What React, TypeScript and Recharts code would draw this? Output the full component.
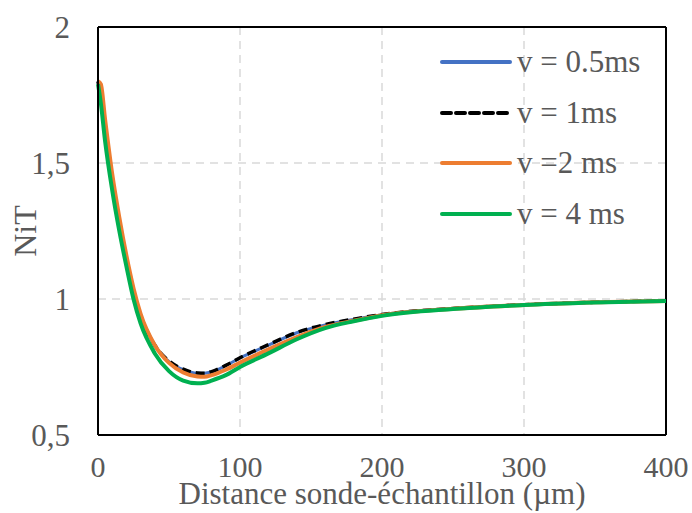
import React from 'react';
import {
  LineChart,
  Line,
  XAxis,
  YAxis,
  CartesianGrid,
  ReferenceLine,
} from 'recharts';

// distance sonde-échantillon (µm)
const distance = [0, 2, 5, 10, 15, 20, 25, 30, 40, 50, 60, 70, 75, 80, 90, 100, 120, 140, 160, 180, 200, 250, 300, 350, 400];

const v05 = [1.8, 1.74, 1.61, 1.43, 1.28, 1.15, 1.03, 0.94, 0.83, 0.77, 0.74, 0.727, 0.727, 0.732, 0.755, 0.783, 0.83, 0.876, 0.905, 0.925, 0.942, 0.965, 0.979, 0.988, 0.993];
const v1 = [1.8, 1.74, 1.61, 1.43, 1.28, 1.15, 1.03, 0.94, 0.83, 0.772, 0.742, 0.728, 0.727, 0.733, 0.756, 0.784, 0.832, 0.877, 0.906, 0.926, 0.943, 0.965, 0.979, 0.988, 0.993];
const v2 = [1.8, 1.79, 1.66, 1.46, 1.3, 1.16, 1.04, 0.945, 0.83, 0.765, 0.73, 0.715, 0.714, 0.72, 0.74, 0.766, 0.815, 0.86, 0.897, 0.92, 0.94, 0.964, 0.978, 0.988, 0.993];
const v4 = [1.79, 1.72, 1.58, 1.4, 1.25, 1.12, 1.0, 0.91, 0.8, 0.735, 0.7, 0.69, 0.692, 0.7, 0.72, 0.75, 0.8, 0.852, 0.893, 0.918, 0.938, 0.963, 0.978, 0.987, 0.993];

const xTicks = [0, 100, 200, 300, 400];
const yTicks = [0.5, 1, 1.5, 2];

const series = [
  { key: 'v05', name: 'v = 0.5ms', color: '#4472C4', width: 3, dash: undefined as string | undefined },
  { key: 'v1', name: 'v = 1ms', color: '#000000', width: 3.5, dash: '9 5' },
  { key: 'v2', name: 'v =2 ms', color: '#ED7D31', width: 4, dash: undefined },
  { key: 'v4', name: 'v = 4 ms', color: '#00B050', width: 4, dash: undefined },
];

const data = distance.map((d, i) => ({ d, v05: v05[i], v1: v1[i], v2: v2[i], v4: v4[i] }));

const FONT = '"Liberation Serif", "Times New Roman", serif';
const TEXT = '#595959';

const LegendBox = () => (
  <div style={{ position: 'absolute', left: 440, top: 37, fontFamily: FONT, fontSize: 31, color: TEXT }}>
    {series.map((s) => (
      <div key={s.key} style={{ display: 'flex', alignItems: 'center', height: 50.5 }}>
        <svg width={77} height={10}>
          <line x1={2} y1={5} x2={70} y2={5} stroke={s.color} strokeWidth={4}
            strokeDasharray={s.dash} strokeLinecap="round" />
        </svg>
        <span style={{ whiteSpace: 'pre' }}>{s.name}</span>
      </div>
    ))}
  </div>
);

const YLabel = (props: any) => {
  const vb = props.viewBox;
  const cx = 25;
  const cy = vb.y + vb.height / 2;
  return (
    <text x={cx} y={cy} transform={`rotate(-90, ${cx}, ${cy})`} textAnchor="middle"
      dominantBaseline="central" fill={TEXT} fontFamily={FONT} fontSize={32}>
      NiT
    </text>
  );
};

const XLabel = (props: any) => {
  const vb = props.viewBox;
  return (
    <text x={vb.x + vb.width / 2} y={504} textAnchor="middle" fill={TEXT}
      fontFamily={FONT} fontSize={31}>
      Distance sonde-échantillon (µm)
    </text>
  );
};

export default function App() {
  return (
    <div style={{ position: 'absolute', left: 0, top: 0, width: 692, height: 513, background: '#fff' }}>
      <LineChart width={692} height={513} data={data} margin={{ top: 27, right: 26, left: 0, bottom: 0 }}>
        <CartesianGrid stroke="#D9D9D9" strokeWidth={1.5} strokeDasharray="8 6" />
        <XAxis
          dataKey="d"
          type="number"
          domain={[0, 400]}
          ticks={xTicks}
          height={78}
          axisLine={{ stroke: '#000', strokeWidth: 2 }}
          tickLine={false}
          tickSize={0}
          tickMargin={21}
          tick={{ fill: TEXT, fontSize: 30, fontFamily: FONT }}
          label={XLabel}
        />
        <YAxis
          type="number"
          domain={[0.5, 2]}
          ticks={yTicks}
          width={98}
          axisLine={{ stroke: '#000', strokeWidth: 2 }}
          tickLine={false}
          tickSize={0}
          tickMargin={28}
          tick={{ fill: TEXT, fontSize: 31, fontFamily: FONT }}
          tickFormatter={(v: number) => String(v).replace('.', ',')}
          label={YLabel}
        />
        <ReferenceLine y={2} stroke="#000" strokeWidth={2} />
        <ReferenceLine x={400} stroke="#000" strokeWidth={2} />
        {series.map((s) => (
          <Line
            key={s.key}
            type="monotone"
            dataKey={s.key}
            name={s.name}
            stroke={s.color}
            strokeWidth={s.width}
            strokeDasharray={s.dash}
            dot={false}
            isAnimationActive={false}
          />
        ))}
      </LineChart>
      <LegendBox />
    </div>
  );
}
